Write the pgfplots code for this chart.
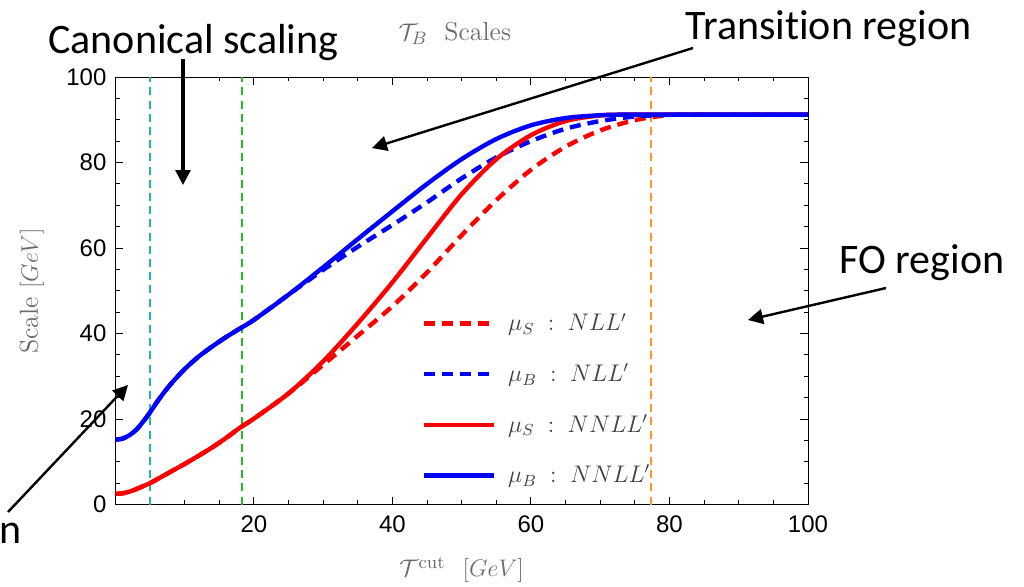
\documentclass[border=0pt]{standalone}
\usepackage{pgfplots}
\pgfplotsset{compat=1.18}
\usepackage{fontspec}
\usetikzlibrary{arrows.meta}
\newfontfamily\arial{Liberation Sans}
\newfontfamily\calibri[Ligatures={NoCommon}]{Carlito}

\definecolor{vcyan}{RGB}{30,180,185}
\definecolor{vgreen}{RGB}{30,190,30}
\definecolor{vorange}{RGB}{255,150,40}
\definecolor{labgray}{gray}{0.42}
\definecolor{leggray}{gray}{0.25}

% scale settings: mu_S and mu_B profiles at NLL' and NNLL'
\pgfplotstableread{
x y
0 15.2
1 15.4
2 16.2
3 17.5
4 19.4
5 21.6
6 24.0
7 26.2
8 28.2
9 30.0
10 31.7
12 34.6
14 37.0
16 39.2
18 41.2
20 43.2
25 49.1
30 55.5
35 62.1
40 68.6
45 75.0
50 80.8
55 85.5
60 88.7
65 90.4
70 91.05
75 91.2
100 91.2
}\muBNNLL

\pgfplotstableread{
x y
0 15.2
1 15.4
2 16.2
3 17.5
4 19.4
5 21.6
6 24.0
7 26.2
8 28.2
9 30.0
10 31.7
12 34.6
14 37.0
16 39.2
18 41.2
20 43.2
25 49.1
30 54.9
35 60.3
40 65.4
45 70.7
50 76.3
55 81.2
60 85.0
65 87.9
70 89.7
75 90.75
80 91.15
85 91.2
100 91.2
}\muBNLL

\pgfplotstableread{
x y
0 2.5
1 2.6
2 3.0
3 3.6
4 4.3
5 5.0
6 5.9
7 6.8
8 7.7
9 8.6
10 9.5
12 11.4
14 13.4
16 15.6
18 18.0
20 20.1
25 26.0
30 33.5
35 42.4
40 52.0
45 62.4
50 72.6
55 80.8
60 86.4
65 89.7
70 91.0
75 91.2
100 91.2
}\muSNNLL

\pgfplotstableread{
x y
0 2.5
1 2.6
2 3.0
3 3.6
4 4.3
5 5.0
6 5.9
7 6.8
8 7.7
9 8.6
10 9.5
12 11.4
14 13.4
16 15.6
18 18.0
20 20.1
25 26.0
30 32.7
35 39.5
40 46.4
45 54.3
50 63.0
55 71.2
60 78.3
65 83.7
70 87.5
75 89.9
80 91.1
85 91.2
100 91.2
}\muSNLL

\begin{document}
\begin{tikzpicture}
\begin{axis}[
  at={(0,0)}, anchor=south west,
  scale only axis,
  width=346.25pt, height=213.75pt,
  xmin=0, xmax=100, ymin=0, ymax=100,
  xtick={20,40,60,80,100},
  ytick={0,20,40,60,80,100},
  minor xtick={0,5,...,100},
  minor ytick={0,5,...,100},
  tick align=inside,
  major tick length=4pt,
  minor tick length=2.2pt,
  axis line style={line width=0.5pt},
  every tick/.style={black, line width=0.5pt},
  tick label style={font=\arial\fontsize{12}{14}\selectfont},
  /pgf/number format/assume math mode=true,
  xticklabel style={yshift=-2pt},
  yticklabel style={xshift=-1pt},
  title={$\mathcal{T}_B$\ \ Scales},
  title style={at={(axis description cs:0.49,1.075)}, anchor=center,
    font=\fontsize{13}{15}\selectfont, text=labgray},
  xlabel={$\mathcal{T}^{\mathrm{cut}}\ \ [GeV]$},
  ylabel={Scale\ $[GeV]$},
  xlabel style={at={(axis description cs:0.5,-0.153)}, anchor=center,
    font=\fontsize{13}{15}\selectfont, text=labgray},
  ylabel style={at={(axis description cs:-0.121,0.5)}, anchor=center, rotate=0,
    font=\fontsize{13}{15}\selectfont, text=labgray},
  legend style={at={(axis cs:43.3,46.7)}, anchor=north west, draw=none, fill=none,
    font=\fontsize{12}{14}\selectfont, text=leggray, row sep=11pt,
    /tikz/every odd column/.style={column sep=4pt}},
  legend cell align=left,
  legend image code/.code={\draw[#1] (0pt,0pt) -- (35pt,0pt);},
]
% reference scales
\addplot[vcyan, line width=1.1pt, dash pattern=on 4pt off 2.6pt, forget plot] coordinates {(5,0) (5,100)};
\addplot[vgreen, line width=1.1pt, dash pattern=on 4pt off 2.6pt, forget plot] coordinates {(18.3,0) (18.3,100)};
\addplot[vorange, line width=1.1pt, dash pattern=on 4pt off 2.6pt, forget plot] coordinates {(77.3,0) (77.3,100)};

\addplot[red, line width=2.2pt, dash pattern=on 5.5pt off 3.5pt, smooth] table {\muSNLL};
\addlegendentry{$\mu_S\;:\;NLL'$}
\addplot[blue, line width=2.2pt, dash pattern=on 5.5pt off 3.5pt, smooth] table {\muBNLL};
\addlegendentry{$\mu_B\;:\;NLL'$}
\addplot[red, line width=2.2pt, smooth] table {\muSNNLL};
\addlegendentry{$\mu_S\;:\;NNLL'$}
\addplot[blue, line width=2.2pt, smooth] table {\muBNNLL};
\addlegendentry{$\mu_B\;:\;NNLL'$}
\end{axis}

% region annotations, placed in slide pixel units
\begin{scope}[shift={(-57.75pt,252.25pt)},x=0.5pt,y=-0.5pt,
  note/.style={font=\calibri\fontsize{21}{24}\selectfont, inner sep=0pt},
  arr/.style={line width=1.2pt, -{Triangle[length=7.5pt,width=7.5pt]}}]
\node[note, anchor=base west] at (48,53) {Canonical scaling};
\node[note, anchor=base west] at (685,39) {Transition region};
\node[note, anchor=base west] at (839,273) {FO region};
\node[note, anchor=base west] at (-1,543) {n};
\draw[arr, line width=1.6pt] (183,59) -- (183,185);
\draw[arr] (693,48) -- (372,148);
\draw[arr] (886,288) -- (748,320);
\draw[arr] (8,512) -- (128,385);
% page frame
\pgfresetboundingbox
\path[use as bounding box] (0,0) rectangle (1024,586);
\end{scope}
\end{tikzpicture}
\end{document}
